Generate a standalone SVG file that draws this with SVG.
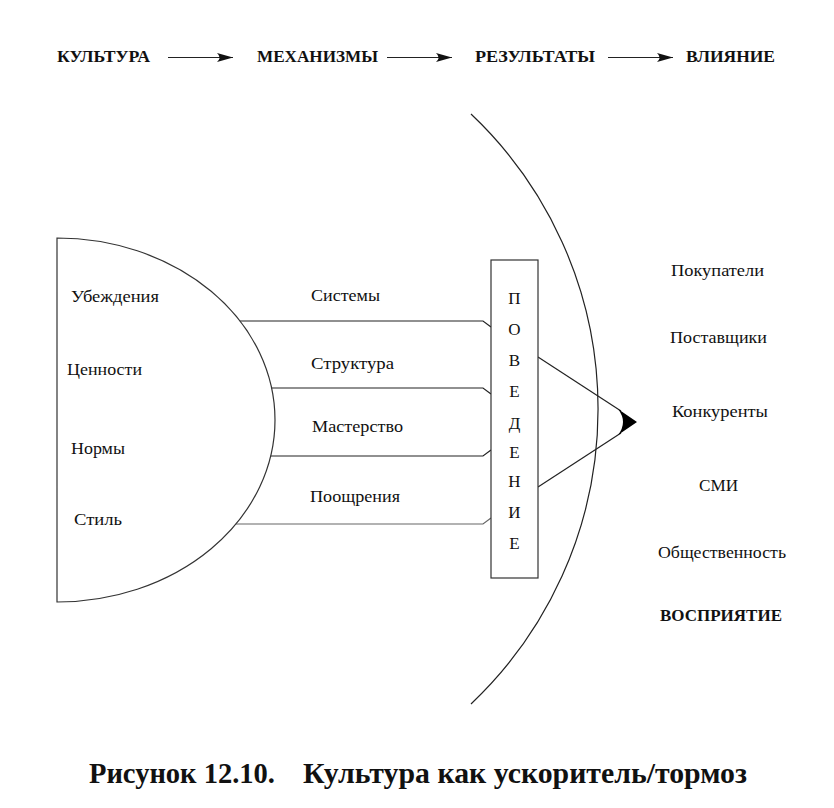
<svg xmlns="http://www.w3.org/2000/svg" width="834" height="808" viewBox="0 0 834 808">
<style>
text{font-family:'Liberation Serif','DejaVu Serif',serif}
.t{font-size:17px;fill:#111}
.b{font-size:17px;font-weight:bold;fill:#111}
.cap{font-size:30px;font-weight:bold;fill:#111}
.ln{fill:none;stroke:#222;stroke-width:1.2}
.shape{fill:#fff;stroke:#333;stroke-width:1.2}
</style>
<defs>
<marker id="ah" markerUnits="userSpaceOnUse" markerWidth="18" markerHeight="10" refX="16" refY="5" orient="auto">
<path d="M0,0.5 L16,5 L0,9.5 Q5,5 0,0.5 Z" fill="#111"/>
</marker>
</defs>
<rect width="834" height="808" fill="#fff"/>
<g id="header">
<text class="b" x="57" y="62" textLength="93" lengthAdjust="spacingAndGlyphs">КУЛЬТУРА</text>
<text class="b" x="257" y="62" textLength="121" lengthAdjust="spacingAndGlyphs">МЕХАНИЗМЫ</text>
<text class="b" x="475" y="62" textLength="120" lengthAdjust="spacingAndGlyphs">РЕЗУЛЬТАТЫ</text>
<text class="b" x="686" y="62" textLength="89" lengthAdjust="spacingAndGlyphs">ВЛИЯНИЕ</text>
</g>
<g id="connectors">
<line class="ln" x1="168" y1="57.5" x2="233" y2="57.5" marker-end="url(#ah)"/>
<line class="ln" x1="387" y1="57.5" x2="452" y2="57.5" marker-end="url(#ah)"/>
<line class="ln" x1="608" y1="57.5" x2="673" y2="57.5" marker-end="url(#ah)"/>
<polyline class="ln" points="220,321 483,321 491,327"/>
<polyline class="ln" points="250,388 483,388 491,394"/>
<polyline class="ln" points="250,456 483,456 491,450"/>
<polyline class="ln" style="stroke:#666" points="220,524 483,524 491,518"/>
<line class="ln" x1="538" y1="357" x2="621" y2="411"/>
<line class="ln" x1="538" y1="487" x2="621" y2="433"/>
<path d="M637,422 L618,409 Q628,422 618,435 Z" fill="#000"/>
</g>
<g id="arc">
<path class="ln" d="M471,114 A406,406 0 0 1 471,704"/>
</g>
<g id="culture">
<path class="shape" d="M57,238 A218,182 0 0 1 57,602 Z"/>
<text class="t" x="71" y="302" textLength="88" lengthAdjust="spacingAndGlyphs">Убеждения</text>
<text class="t" x="67" y="375" textLength="75" lengthAdjust="spacingAndGlyphs">Ценности</text>
<text class="t" x="71" y="454" textLength="54" lengthAdjust="spacingAndGlyphs">Нормы</text>
<text class="t" x="74" y="525" textLength="48" lengthAdjust="spacingAndGlyphs">Стиль</text>
</g>
<g id="mechanisms">
<text class="t" x="311" y="301" textLength="69" lengthAdjust="spacingAndGlyphs">Системы</text>
<text class="t" x="311" y="369" textLength="83" lengthAdjust="spacingAndGlyphs">Структура</text>
<text class="t" x="312" y="432" textLength="91" lengthAdjust="spacingAndGlyphs">Мастерство</text>
<text class="t" x="310" y="502" textLength="90" lengthAdjust="spacingAndGlyphs">Поощрения</text>
</g>
<g id="behaviour">
<rect class="shape" x="491" y="260" width="47" height="318"/>
<g class="t" text-anchor="middle">
<text x="514.5" y="304">П</text>
<text x="514.5" y="335">О</text>
<text x="514.5" y="366">В</text>
<text x="514.5" y="397">Е</text>
<text x="514.5" y="429">Д</text>
<text x="514.5" y="458">Е</text>
<text x="514.5" y="487">Н</text>
<text x="514.5" y="518">И</text>
<text x="514.5" y="549">Е</text>
</g>
</g>
<g id="perception">
<text class="t" x="671" y="276" textLength="93" lengthAdjust="spacingAndGlyphs">Покупатели</text>
<text class="t" x="670" y="343" textLength="97" lengthAdjust="spacingAndGlyphs">Поставщики</text>
<text class="t" x="672" y="417" textLength="96" lengthAdjust="spacingAndGlyphs">Конкуренты</text>
<text class="t" x="699" y="491" textLength="39" lengthAdjust="spacingAndGlyphs">СМИ</text>
<text class="t" x="658" y="558" textLength="128" lengthAdjust="spacingAndGlyphs">Общественность</text>
<text class="b" x="660" y="621" textLength="122" lengthAdjust="spacingAndGlyphs">ВОСПРИЯТИЕ</text>
</g>
<g id="caption">
<text class="cap" x="89" y="783" textLength="186" lengthAdjust="spacingAndGlyphs">Рисунок 12.10.</text>
<text class="cap" x="303" y="783" textLength="444" lengthAdjust="spacingAndGlyphs">Культура как ускоритель/тормоз</text>
</g>
</svg>
